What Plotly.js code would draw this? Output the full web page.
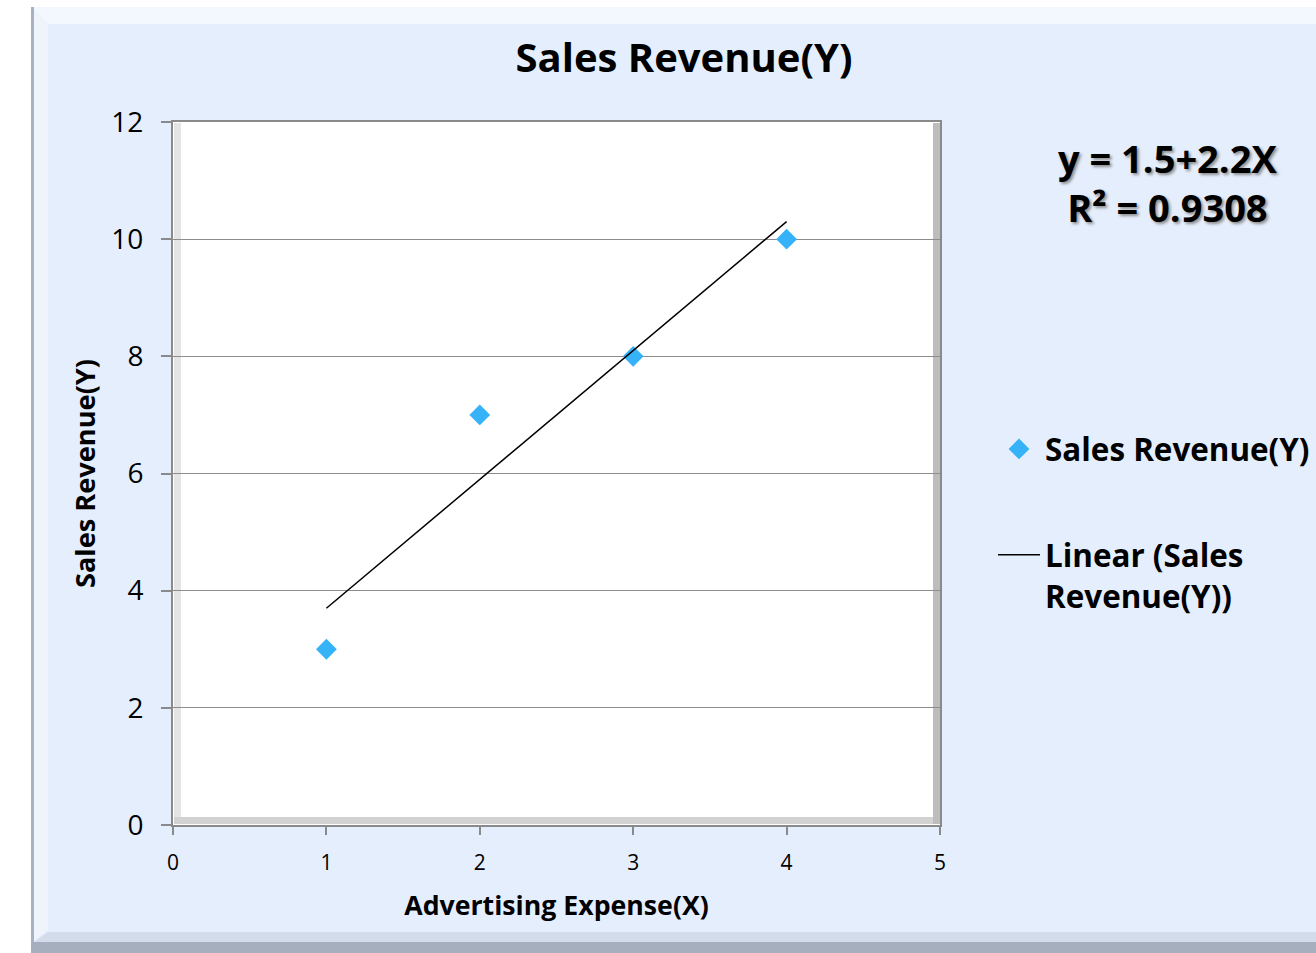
<!DOCTYPE html>
<html>
<head>
<meta charset="utf-8">
<script src="https://cdn.plot.ly/plotly-3.0.1.min.js"></script>
<style>html,body{margin:0;padding:0;background:#fff;}#chart{width:1316px;height:953px;}</style>
</head>
<body>
<div id="chart"></div>
<script>
// ---- data ----
const adExpense = [1, 2, 3, 4];
const salesRevenue = [3, 7, 8, 10];
const trendX = [1, 4];
const trendY = [3.7, 10.3];
const xTicks = [0, 1, 2, 3, 4, 5];
const yTicks = [0, 2, 4, 6, 8, 10, 12];
const equationText = 'y = 1.5+2.2X<br>R² = 0.9308';

// ---- layout geometry helpers (pixel -> paper) ----
const W = 1316, H = 953;
const M = {l: 173, r: 376, t: 122, b: 128};
const PW = W - M.l - M.r, PH = H - M.t - M.b;
const px = x => (x - M.l) / PW;
const py = y => (H - M.b - y) / PH;
function rect(x0, y0, x1, y1, fill, layer) {
  return {type: 'rect', xref: 'paper', yref: 'paper', x0: px(x0), x1: px(x1), y0: py(y1), y1: py(y0),
          fillcolor: fill, line: {width: 0}, layer: layer || 'below'};
}
function poly(pts, fill, layer) {
  const d = 'M' + pts.map(p => px(p[0]) + ',' + py(p[1])).join('L') + 'Z';
  return {type: 'path', xref: 'paper', yref: 'paper', path: d, fillcolor: fill, line: {width: 0}, layer: layer || 'below'};
}

const FONT = '"Open Sans", "Noto Sans", sans-serif';
const BG = '#E5EEFC';

const shapes = [
  rect(0, 0, 31, H, '#FFFFFF'),
  rect(0, 0, W, 7, '#FFFFFF'),
  poly([[31, 7], [W, 7], [W, 24], [48, 24]], '#F3F7FE'),
  poly([[31, 7], [48, 24], [48, 930], [31, 944]], '#EEF3FC'),
  rect(31, 7, 34, 944, '#A9B2C2'),
  poly([[31, 944], [48, 932], [W, 932], [W, 944]], '#D3DCEA'),
  rect(31, 942, W, H, '#A6AFBD'),
  rect(174, 123, 181, 824, '#E4E4E4'),
  rect(174, 817, 939, 824, '#D2D2D2'),
  rect(933, 123, 940, 824, '#BDBDBD')
];

const traces = [
  {
    type: 'scatter', mode: 'markers', name: 'Sales Revenue(Y)',
    x: adExpense, y: salesRevenue,
    marker: {symbol: 'diamond', size: 16, color: '#35B2F8'},
    legendgroup: 'a', cliponaxis: false
  },
  {
    type: 'scatter', mode: 'lines', name: 'Linear (Sales<br>Revenue(Y))',
    x: trendX, y: trendY,
    line: {color: '#000000', width: 1.5},
    legendgroup: 'b'
  }
];

const layout = {
  width: W, height: H,
  margin: M,
  paper_bgcolor: BG,
  plot_bgcolor: '#FFFFFF',
  font: {family: FONT, color: '#000000'},
  title: {
    text: 'Sales Revenue(Y)',
    font: {family: FONT, size: 40, weight: 700, color: '#000'},
    x: 684 / W, xanchor: 'center', xref: 'container',
    y: 1 - 58 / H, yanchor: 'middle', yref: 'container'
  },
  xaxis: {
    range: [0, 5], tickvals: xTicks, ticktext: xTicks.map(String),
    showgrid: false, zeroline: false,
    showline: true, mirror: true, linecolor: '#8A8A8A', linewidth: 2,
    ticks: 'outside', ticklen: 8, tickcolor: '#8A8A8A', tickwidth: 2,
    ticklabelstandoff: 10,
    tickfont: {family: FONT, size: 21, color: '#000'},
    title: {text: 'Advertising Expense(X)', font: {family: FONT, size: 26.7, weight: 700}, standoff: 21},
    fixedrange: true
  },
  yaxis: {
    range: [0, 12], tickvals: yTicks, ticktext: yTicks.map(String),
    showgrid: true, gridcolor: '#8C8C8C', gridwidth: 1,
    zeroline: false,
    showline: true, mirror: true, linecolor: '#8A8A8A', linewidth: 2,
    ticks: 'outside', ticklen: 10, tickcolor: '#8A8A8A', tickwidth: 2,
    ticklabelstandoff: 12,
    tickfont: {family: FONT, size: 28, color: '#000'},
    title: {text: 'Sales Revenue(Y)', font: {family: FONT, size: 27.2, weight: 700}, standoff: 8},
    fixedrange: true
  },
  showlegend: true,
  legend: {
    xref: 'container', yref: 'container',
    x: 993 / W, xanchor: 'left',
    y: 1 - 422 / H, yanchor: 'top',
    bgcolor: 'rgba(0,0,0,0)',
    font: {family: FONT, size: 31.4, weight: 700, color: '#000'},
    tracegroupgap: 62,
    itemwidth: 42,
    valign: 'top'
  },
  annotations: [{
    xref: 'paper', yref: 'paper',
    x: px(1167), y: py(182), xanchor: 'center', yanchor: 'middle',
    text: equationText, showarrow: false, align: 'center',
    font: {family: FONT, size: 38, weight: 700, color: '#000', shadow: '2px 2px 3px #8E8E8E'}
  }],
  shapes: shapes
};

Plotly.newPlot('chart', traces, layout, {displayModeBar: false, staticPlot: true});
</script>
</body>
</html>
